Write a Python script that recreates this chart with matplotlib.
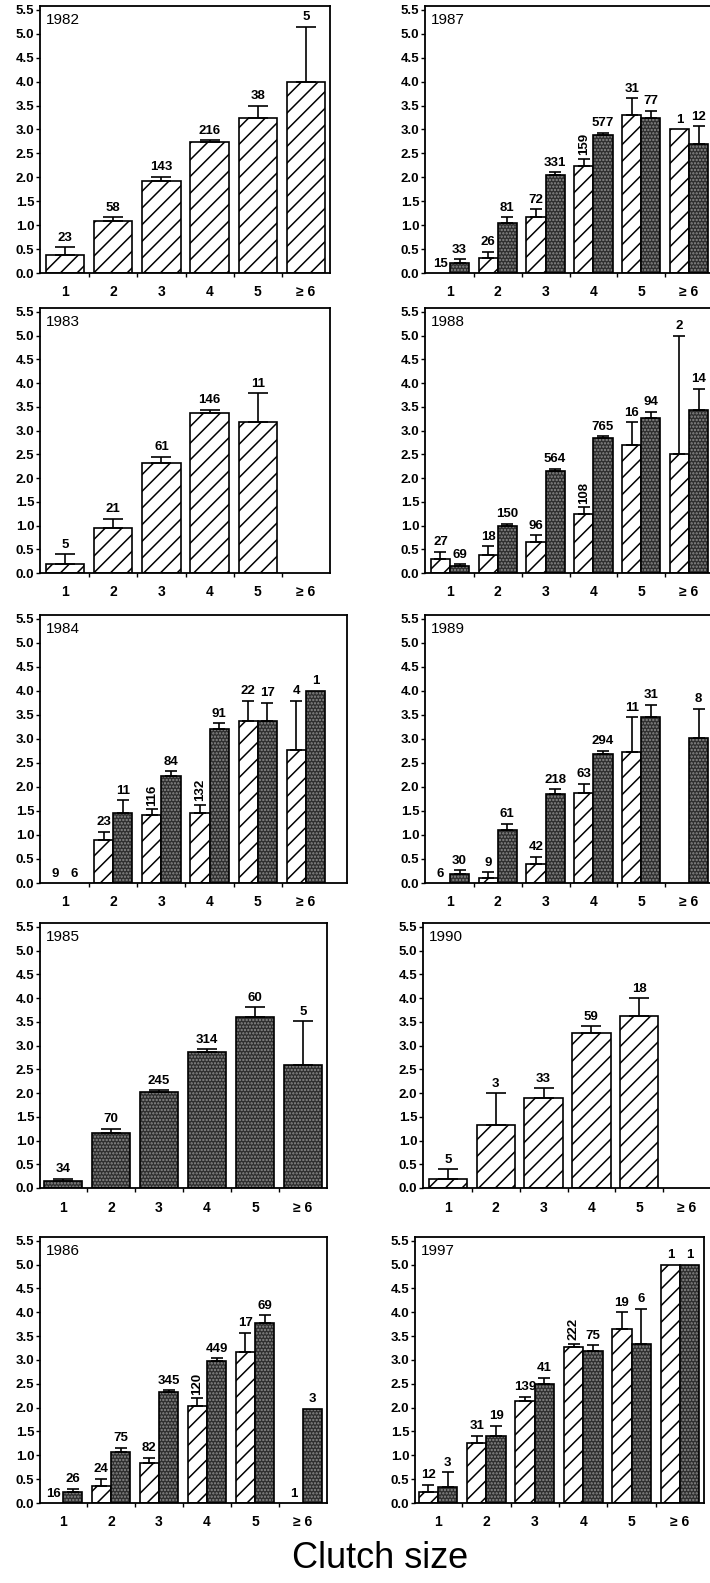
import numpy as np
import matplotlib
matplotlib.use('Agg')
import matplotlib.pyplot as plt

plt.rcParams['font.family'] = ['Liberation Sans', 'DejaVu Sans']
plt.rcParams['hatch.linewidth'] = 1.1

categories = ['1', '2', '3', '4', '5', '\u2265 6']
yTicks = np.arange(0, 5.51, 0.5)

# hatched bars / stippled bars, mean, SE (bar top to cap) and sample size
y1982_hatch = [0.38, 1.08, 1.92, 2.74, 3.23, 4.00]
y1982_hatch_se = [0.16, 0.08, 0.09, 0.04, 0.27, 1.15]
y1982_hatch_n = [23, 58, 143, 216, 38, 5]

y1983_hatch = [0.20, 0.95, 2.32, 3.36, 3.18, None]
y1983_hatch_se = [0.19, 0.19, 0.13, 0.08, 0.60, None]
y1983_hatch_n = [5, 21, 61, 146, 11, None]

y1984_hatch = [0, 0.89, 1.41, 1.46, 3.37, 2.77]
y1984_hatch_se = [None, 0.18, 0.13, 0.17, 0.42, 1.02]
y1984_hatch_n = [9, 23, 116, 132, 22, 4]
y1984_dark = [0, 1.46, 2.22, 3.20, 3.37, 4.00]
y1984_dark_se = [None, 0.26, 0.11, 0.13, 0.38, None]
y1984_dark_n = [6, 11, 84, 91, 17, 1]

y1985_dark = [0.15, 1.15, 2.02, 2.87, 3.60, 2.60]
y1985_dark_se = [0.05, 0.10, 0.04, 0.05, 0.21, 0.91]
y1985_dark_n = [34, 70, 245, 314, 60, 5]

y1986_hatch = [0, 0.36, 0.83, 2.04, 3.16, 0]
y1986_hatch_se = [None, 0.15, 0.12, 0.16, 0.41, None]
y1986_hatch_n = [16, 24, 82, 120, 17, 1]
y1986_dark = [0.24, 1.07, 2.32, 2.98, 3.77, 1.98]
y1986_dark_se = [0.06, 0.09, 0.05, 0.06, 0.17, None]
y1986_dark_n = [26, 75, 345, 449, 69, 3]

y1987_hatch = [0, 0.32, 1.18, 2.24, 3.30, 3.01]
y1987_hatch_se = [None, 0.12, 0.15, 0.15, 0.35, None]
y1987_hatch_n = [15, 26, 72, 159, 31, 1]
y1987_dark = [0.21, 1.05, 2.04, 2.88, 3.23, 2.69]
y1987_dark_se = [0.08, 0.11, 0.07, 0.05, 0.16, 0.38]
y1987_dark_n = [33, 81, 331, 577, 77, 12]

y1988_hatch = [0.29, 0.38, 0.66, 1.25, 2.70, 2.50]
y1988_hatch_se = [0.16, 0.18, 0.14, 0.13, 0.48, 2.50]
y1988_hatch_n = [27, 18, 96, 108, 16, 2]
y1988_dark = [0.15, 0.99, 2.15, 2.85, 3.27, 3.43]
y1988_dark_se = [0.04, 0.05, 0.05, 0.03, 0.13, 0.45]
y1988_dark_n = [69, 150, 564, 765, 94, 14]

y1989_hatch = [0, 0.10, 0.40, 1.88, 2.72, None]
y1989_hatch_se = [None, 0.12, 0.15, 0.19, 0.73, None]
y1989_hatch_n = [6, 9, 42, 63, 11, None]
y1989_dark = [0.19, 1.11, 1.86, 2.68, 3.46, 3.01]
y1989_dark_se = [0.08, 0.12, 0.09, 0.07, 0.25, 0.62]
y1989_dark_n = [30, 61, 218, 294, 31, 8]

y1990_hatch = [0.20, 1.32, 1.90, 3.27, 3.62, None]
y1990_hatch_se = [0.19, 0.68, 0.20, 0.14, 0.38, None]
y1990_hatch_n = [5, 3, 33, 59, 18, None]

y1997_hatch = [0.24, 1.25, 2.15, 3.27, 3.64, 5.00]
y1997_hatch_se = [0.14, 0.16, 0.08, 0.07, 0.36, None]
y1997_hatch_n = [12, 31, 139, 222, 19, 1]
y1997_dark = [0.33, 1.41, 2.49, 3.19, 3.33, 5.00]
y1997_dark_se = [0.31, 0.21, 0.14, 0.12, 0.75, None]
y1997_dark_n = [3, 19, 41, 75, 6, 1]

figW, figH = 710, 1583
fig = plt.figure(figsize=(figW / 100, figH / 100), dpi=100)


def addAxes(left, top, right, bottom):
    return fig.add_axes([left / figW, 1 - bottom / figH,
                         (right - left) / figW, (bottom - top) / figH])


def drawBars(ax, xs, vals, ses, ns, width, dark, capsize, rotated):
    for i, x in enumerate(xs):
        if ns[i] is None:
            continue
        v = vals[i] if vals[i] is not None else 0
        if v > 0:
            if dark:
                ax.bar(x, v, width, color='#2e2e2e', edgecolor='#8c8c8c',
                       hatch='.....', linewidth=0, zorder=2)
                ax.bar(x, v, width, fill=False, edgecolor='black',
                       linewidth=1.2, zorder=3)
            else:
                ax.bar(x, v, width, color='white', edgecolor='black',
                       hatch='//', linewidth=1.2, zorder=2)
        top = v
        if ses[i] is not None:
            ax.errorbar(x, v, yerr=[[0], [ses[i]]], fmt='none', ecolor='black',
                        elinewidth=1.2, capsize=capsize, capthick=1.2, zorder=4)
            top = v + ses[i]
        ax.annotate(str(ns[i]), (x, top), xytext=(0, 2.5), textcoords='offset points',
                    ha='center', va='bottom', fontsize=9.5, fontweight='bold',
                    rotation=90 if i in rotated else 0)


def drawPanel(box, year, hatch, hatchSe, hatchN, dark, darkSe, darkN, rotated=()):
    left, top, right, bottom, x1, step = box
    ax = addAxes(left, top, right, bottom)
    idx = np.arange(6)
    paired = hatch is not None and dark is not None
    if paired:
        drawBars(ax, idx - 0.2, hatch, hatchSe, hatchN, 0.4, False, 4.5, rotated)
        drawBars(ax, idx + 0.2, dark, darkSe, darkN, 0.4, True, 4.5, ())
    elif hatch is not None:
        drawBars(ax, idx, hatch, hatchSe, hatchN, 0.8, False, 7, rotated)
    else:
        drawBars(ax, idx, dark, darkSe, darkN, 0.8, True, 7, rotated)

    ax.set_xlim((left - x1) / step, (right - x1) / step)
    ax.set_ylim(0, 5.58)
    ax.set_yticks(yTicks)
    ax.set_yticklabels(['%.1f' % t for t in yTicks], fontsize=9.5, fontweight='bold')
    ax.set_xticks(idx)
    ax.set_xticklabels(categories, fontsize=10, fontweight='bold')
    ax.set_xticks(idx[:-1] + 0.5, minor=True)
    ax.tick_params(axis='x', which='major', length=0, pad=9)
    ax.tick_params(axis='x', which='minor', length=3, width=1, direction='out')
    ax.tick_params(axis='y', length=3, width=1, direction='out', pad=1)
    for s in ax.spines.values():
        s.set_linewidth(1.3)
    if right >= 710:
        ax.spines['right'].set_visible(False)
    ax.annotate(year, (0, 1), xycoords='axes fraction', xytext=(4, -5),
                textcoords='offset points', ha='left', va='top', fontsize=11)
    return ax


# left, top, right, bottom (pixels), centre of first category, category step
drawPanel((40, 6, 330, 273, 65, 48.2), '1982', y1982_hatch, y1982_hatch_se, y1982_hatch_n, None, None, None)
drawPanel((40, 308, 330, 573, 65, 48.2), '1983', y1983_hatch, y1983_hatch_se, y1983_hatch_n, None, None, None)
drawPanel((40, 615, 347, 883, 65, 48.2), '1984', y1984_hatch, y1984_hatch_se, y1984_hatch_n,
          y1984_dark, y1984_dark_se, y1984_dark_n, rotated=(2, 3))
drawPanel((40, 923, 327, 1188, 63, 48.0), '1985', None, None, None, y1985_dark, y1985_dark_se, y1985_dark_n)
drawPanel((40, 1237, 327, 1503, 63, 48.0), '1986', y1986_hatch, y1986_hatch_se, y1986_hatch_n,
          y1986_dark, y1986_dark_se, y1986_dark_n, rotated=(3,))

drawPanel((425, 6, 710, 273, 450, 47.8), '1987', y1987_hatch, y1987_hatch_se, y1987_hatch_n,
          y1987_dark, y1987_dark_se, y1987_dark_n, rotated=(3,))
drawPanel((425, 308, 710, 573, 450, 47.8), '1988', y1988_hatch, y1988_hatch_se, y1988_hatch_n,
          y1988_dark, y1988_dark_se, y1988_dark_n, rotated=(3,))
drawPanel((425, 615, 710, 883, 450, 47.8), '1989', y1989_hatch, y1989_hatch_se, y1989_hatch_n,
          y1989_dark, y1989_dark_se, y1989_dark_n)
drawPanel((423, 923, 710, 1188, 448, 47.8), '1990', y1990_hatch, y1990_hatch_se, y1990_hatch_n, None, None, None)
drawPanel((415, 1237, 704, 1503, 438, 48.4), '1997', y1997_hatch, y1997_hatch_se, y1997_hatch_n,
          y1997_dark, y1997_dark_se, y1997_dark_n, rotated=(3,))

fig.text(380 / figW, 1 - 1558 / figH, 'Clutch size', ha='center', va='center', fontsize=26)

fig.savefig('out.png', dpi=100)
